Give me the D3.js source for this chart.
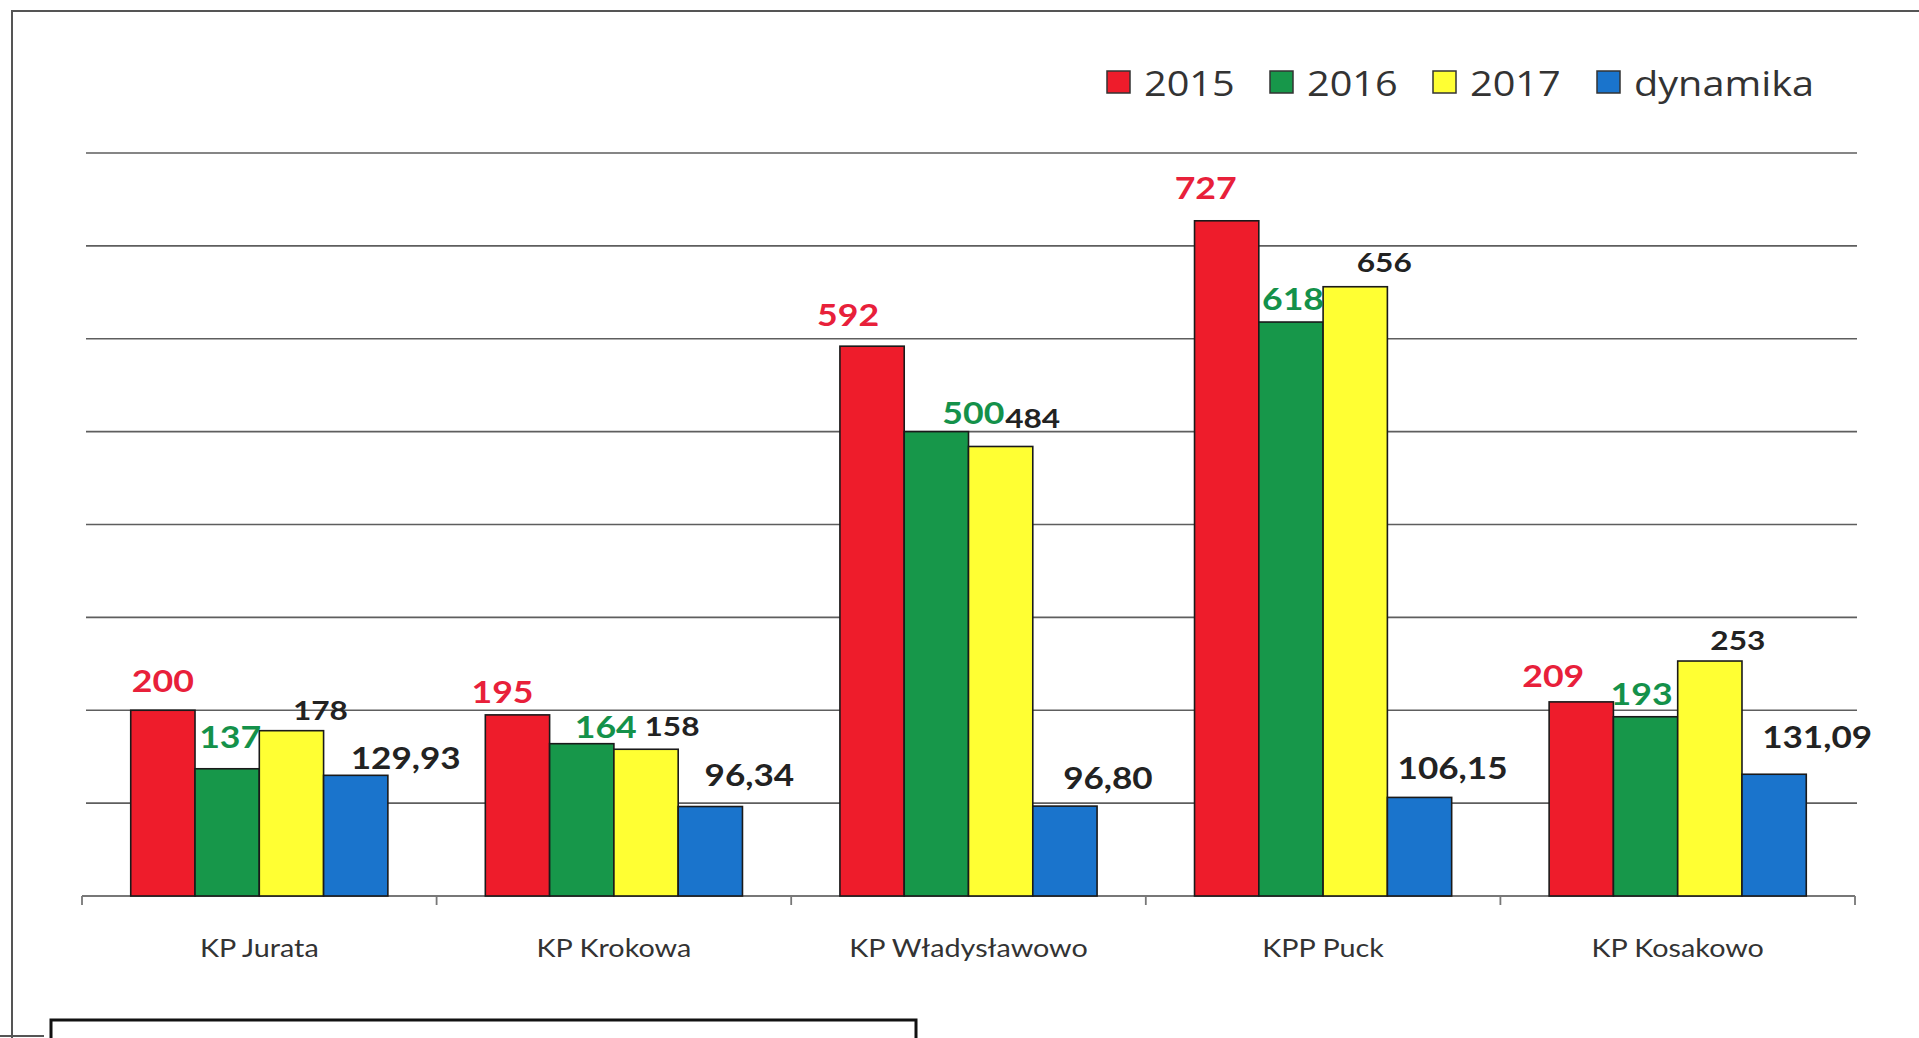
<!DOCTYPE html>
<html>
<head>
<meta charset="utf-8">
<script src="https://cdn.jsdelivr.net/npm/d3@7/dist/d3.min.js"></script>
<style>
  html, body { margin: 0; padding: 0; background: #fff; }
  svg { display: block; }
</style>
</head>
<body>
<svg id="chart" width="1919" height="1038"></svg>
<script>
// ---- data ----
const categories = ["KP Jurata", "KP Krokowa", "KP Władysławowo", "KPP Puck", "KP Kosakowo"];
const seriesNames = ["2015", "2016", "2017", "dynamika"];
const values2015 = [200, 195, 592, 727, 209];
const values2016 = [137, 164, 500, 618, 193];
const values2017 = [178, 158, 484, 656, 253];
const valuesDynamika = [129.93, 96.34, 96.80, 106.15, 131.09];
const yTicks = [100, 200, 300, 400, 500, 600, 700, 800];

// ---- layout / style (kept separate from the data) ----
const seriesColors = ["#ee1c2b", "#17974a", "#ffff33", "#1a74cc"];
const labelColors = ["#e8203a", "#14914a", "#222222", "#222222"];
const labelSizes = [31, 31, 27.5, 30.5];
// label nudges [dx, gap above bar top] per category, per series (px)
const labelNudge = [
  [[0, 18], [3, 21], [29, 11], [50, 6]],
  [[-15, 12], [24, 6], [26, 13], [39, 21]],
  [[-24, 20], [37, 8], [32, 18], [43, 17]],
  [[-21, 22], [2, 12], [29, 15], [33, 18]],
  [[-28, 15], [-4, 12], [28, 11], [43, 26]]
];
const SX = 1.15; // horizontal stretch of the scanned text

const seriesValues = [values2015, values2016, values2017, valuesDynamika];
const fmt = v => Number.isInteger(v) ? String(v) : v.toFixed(2).replace(".", ",");

const svg = d3.select("#chart");
const FONT = "Lato, 'Open Sans', sans-serif";
const LEGEND_FONT = "'Open Sans', Lato, sans-serif";

// outer frame (scanned page)
svg.append("line").attr("x1", 12).attr("y1", 11).attr("x2", 1919).attr("y2", 11)
  .attr("stroke", "#555").attr("stroke-width", 2);
svg.append("line").attr("x1", 12).attr("y1", 10).attr("x2", 12).attr("y2", 1038)
  .attr("stroke", "#555").attr("stroke-width", 2);

// scales
const x0 = d3.scaleBand().domain(categories).range([82, 1855]).paddingInner(0).paddingOuter(0);
const x1 = d3.scaleBand().domain(seriesNames).range([0, x0.bandwidth()])
  .paddingInner(0).paddingOuter(0.758);
const y = d3.scaleLinear().domain([0, 800]).range([896, 153]);

// gridlines
svg.append("g").selectAll("line").data(yTicks).join("line")
  .attr("x1", 86).attr("x2", 1857)
  .attr("y1", d => y(d)).attr("y2", d => y(d))
  .attr("stroke", "#5e5e5e").attr("stroke-width", 1.7);

// x axis
const xAxis = svg.append("g").attr("transform", `translate(0,${y(0)})`);
xAxis.append("line").attr("x1", 82).attr("x2", 1855).attr("y1", 0).attr("y2", 0)
  .attr("stroke", "#777").attr("stroke-width", 1.8);
const tickPositions = categories.map(c => x0(c)).concat([x0.range()[1]]);
xAxis.selectAll("line.tick").data(tickPositions).join("line").attr("class", "tick")
  .attr("x1", d => d).attr("x2", d => d).attr("y1", 0).attr("y2", 9)
  .attr("stroke", "#777").attr("stroke-width", 1.8);
xAxis.selectAll("text.cat").data(categories).join("text").attr("class", "cat")
  .attr("transform", d => `translate(${x0(d) + x0.bandwidth() / 2},61) scale(${SX},1)`)
  .attr("text-anchor", "middle")
  .attr("font-family", FONT).attr("font-size", 25).attr("fill", "#333")
  .text(d => d);

// bars
const cells = [];
categories.forEach((c, ci) => seriesNames.forEach((s, si) => {
  cells.push({ c, ci, s, si, v: seriesValues[si][ci] });
}));

svg.append("g").selectAll("rect").data(cells).join("rect")
  .attr("x", d => x0(d.c) + x1(d.s))
  .attr("y", d => y(d.v))
  .attr("width", x1.bandwidth())
  .attr("height", d => y(0) - y(d.v))
  .attr("fill", d => seriesColors[d.si])
  .attr("stroke", "#1a1a1a").attr("stroke-width", 1.6);

// value labels
svg.append("g").selectAll("text").data(cells).join("text")
  .attr("transform", d => {
    const n = labelNudge[d.ci][d.si];
    const cx = x0(d.c) + x1(d.s) + x1.bandwidth() / 2 + n[0];
    const cy = y(d.v) - n[1];
    return `translate(${cx},${cy}) scale(${SX},1)`;
  })
  .attr("text-anchor", "middle")
  .attr("font-family", FONT).attr("font-weight", 700)
  .attr("font-size", d => labelSizes[d.si])
  .attr("fill", d => labelColors[d.si])
  .text(d => fmt(d.v));

// legend
const legend = svg.append("g");
const legendX = [1107, 1270, 1433, 1597];
seriesNames.forEach((s, i) => {
  legend.append("rect").attr("x", legendX[i]).attr("y", 71).attr("width", 23).attr("height", 22)
    .attr("fill", seriesColors[i]).attr("stroke", "#333").attr("stroke-width", 1.5);
  legend.append("text")
    .attr("transform", `translate(${legendX[i] + 37},96) scale(${SX},1)`)
    .attr("font-family", LEGEND_FONT).attr("font-size", 34.5).attr("fill", "#333")
    .text(s);
});

// bottom text box (cut off by page edge)
svg.append("rect").attr("x", 51).attr("y", 1020).attr("width", 865).attr("height", 40)
  .attr("fill", "none").attr("stroke", "#111").attr("stroke-width", 3);
svg.append("line").attr("x1", 0).attr("x2", 44).attr("y1", 1036).attr("y2", 1036)
  .attr("stroke", "#555").attr("stroke-width", 2);
</script>
</body>
</html>
